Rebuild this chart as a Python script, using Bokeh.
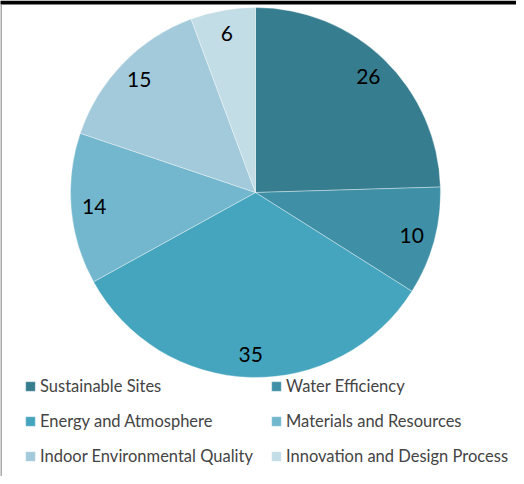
import numpy as np
from bokeh.plotting import figure
from bokeh.models import Range1d, ColumnDataSource, Legend, LegendItem, LabelSet
from bokeh.core.properties import value
from bokeh.embed import file_html
from bokeh.resources import INLINE

categories = ["Sustainable Sites", "Water Efficiency", "Energy and Atmosphere",
              "Materials and Resources", "Indoor Environmental Quality",
              "Innovation and Design Process"]
values = [26, 10, 35, 14, 15, 6]
colors = ["#367D8F", "#3F90A7", "#46A5BE", "#72B7CD", "#A3CADB", "#C3DDE6"]

vals = np.array(values, dtype=float)
frac = vals / vals.sum()
ends = np.cumsum(frac) * 2 * np.pi
starts = ends - frac * 2 * np.pi
start_angle = np.pi / 2 - starts
end_angle = np.pi / 2 - ends
mid = (start_angle + end_angle) / 2

R = 185
LR = 162
src = ColumnDataSource(dict(
    cat=categories, val=[str(v) for v in values], color=colors,
    sa=start_angle, ea=end_angle,
    lx=LR * np.cos(mid), ly=LR * np.sin(mid),
))

W, H = 516, 476
p = figure(width=W, height=H, output_backend="svg", toolbar_location=None,
           x_range=Range1d(-255, 261), y_range=Range1d(-284, 192),
           min_border=0)
p.axis.visible = False
p.grid.visible = False
p.outline_line_color = None
p.background_fill_color = "white"

# frame decorations
p.segment(x0=[-262], y0=[190], x1=[262], y1=[190], line_color="black", line_width=4)
p.segment(x0=[-254.5], y0=[188], x1=[-254.5], y1=[-290], line_color="#8c8c8c", line_width=1.5)

r = p.wedge(x=0, y=0, radius=R, start_angle="sa", end_angle="ea", direction="clock",
            fill_color="color", line_color="white", line_alpha=0.45, line_width=0.8,
            source=src)

labels = LabelSet(x="lx", y="ly", text="val", source=src, text_align="center",
                  text_baseline="middle", text_font=value("Lato"),
                  text_font_size="21px", text_color="black")
p.add_layout(labels)

items = [LegendItem(label=c, renderers=[r], index=i) for i, c in enumerate(categories)]
legend = Legend(items=items, location=(24, 10), orientation="horizontal", ncols=2,
                glyph_width=12, glyph_height=12, label_standoff=4,
                label_text_font="Lato", label_text_font_size="16.5px",
                label_height=20, label_width=215, spacing=15,
                padding=0, margin=0, border_line_color=None,
                background_fill_alpha=0)
p.add_layout(legend, "center")

open("out.html", "w").write(file_html(p, INLINE))
